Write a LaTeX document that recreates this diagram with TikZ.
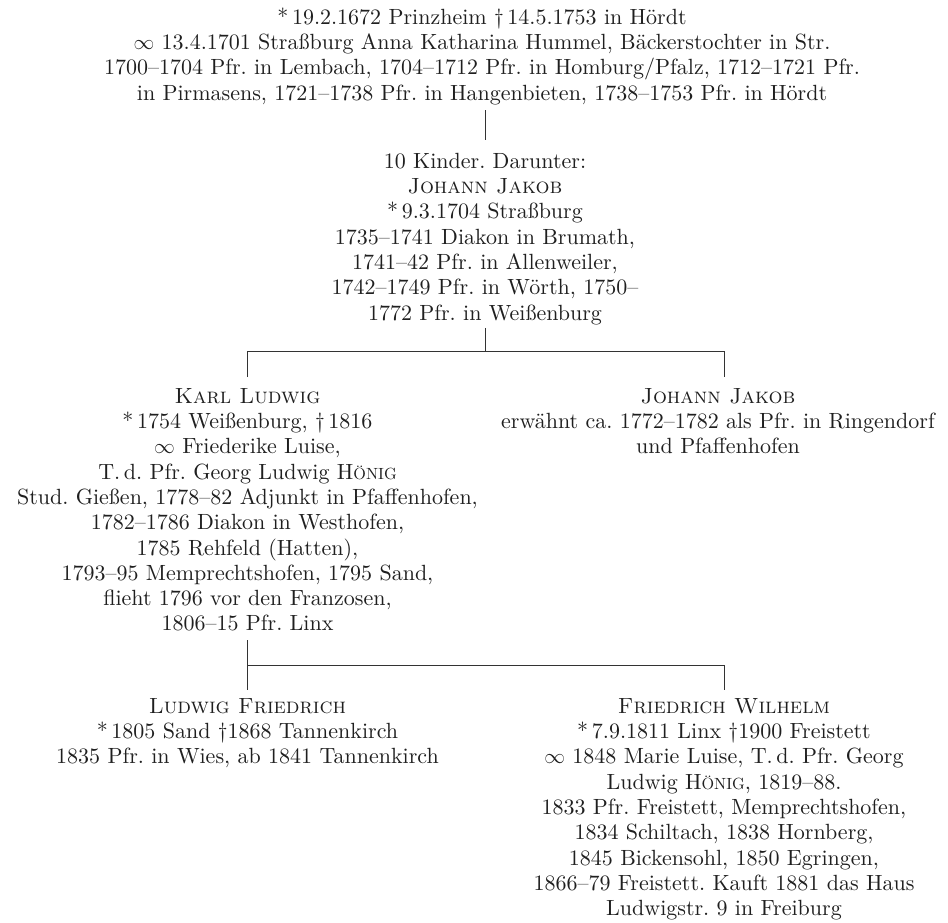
\documentclass[tikz,border=0pt]{standalone}
\usetikzlibrary{calc}
\DeclareFontFamily{TU}{lmx}{}
\DeclareFontShape{TU}{lmx}{m}{n}{<-> "[lmroman10-regular.otf]:mapping=tex-text"}{}
\DeclareFontShape{TU}{lmx}{m}{sc}{<-> "[lmromancaps10-regular.otf]:mapping=tex-text"}{}
\newcommand\fakesc[1]{{\fontsize{16.2}{25.3}\selectfont #1}}
\begin{document}
\begin{tikzpicture}[x=1pt,y=-1pt]
\tikzset{
  txt/.style={align=center, inner sep=0pt, anchor=north,
    font=\fontfamily{lmx}\fontsize{22}{25.3}\selectfont\frenchspacing, text=black!88},
  conn/.style={draw=black!80, line width=0.8pt}
}
\useasboundingbox (0,0) rectangle (948,923);

\node[txt] (top) at (482,6.3) {\strut*\,19.2.1672 Prinzheim \textdagger\,14.5.1753 in Hördt\\
$\infty$ 13.4.1701 Straßburg Anna Katharina Hummel, Bäckerstochter in Str.\\
1700--1704 Pfr. in Lembach, 1704--1712 Pfr. in Homburg/Pfalz, 1712--1721 Pfr.\\
in Pirmasens, 1721--1738 Pfr. in Hangenbieten, 1738--1753 Pfr. in Hördt\strut};

\node[txt] (kinder) at (485,150.3) {\strut 10 Kinder. Darunter:\\
\textsc{Johann Jakob}\\
*\,9.3.1704 Straßburg\\
1735--1741 Diakon in Brumath,\\
1741--42 Pfr. in Allenweiler,\\
1742--1749 Pfr. in Wörth, 1750--\\
1772 Pfr. in Weißenburg\strut};

\node[txt] (karl) at (247.5,385.3) {\strut\textsc{Karl Ludwig}\\
*\,1754 Weißenburg, \textdagger\,1816\\
$\infty$ Friederike Luise,\\
T.\,d. Pfr. Georg Ludwig H\fakesc{ÖNIG}\\
Stud. Gießen, 1778--82 Adjunkt in Pfaffenhofen,\\
1782--1786 Diakon in Westhofen,\\
1785 Rehfeld (Hatten),\\
1793--95 Memprechtshofen, 1795 Sand,\\
flieht 1796 vor den Franzosen,\\
1806--15 Pfr. Linx\strut};

\node[txt] (jj) at (718,385.3) {\strut\textsc{Johann Jakob}\\
erwähnt ca. 1772--1782 als Pfr. in Ringendorf\\
und Pfaffenhofen\strut};

\node[txt] (lf) at (247.5,695.3) {\strut\textsc{Ludwig Friedrich}\\
*\,1805 Sand \textdagger1868 Tannenkirch\\
1835 Pfr. in Wies, ab 1841 Tannenkirch\strut};

\node[txt] (fw) at (724,695.3) {\strut\textsc{Friedrich Wilhelm}\\
*\,7.9.1811 Linx \textdagger1900 Freistett\\
$\infty$ 1848 Marie Luise, T.\,d. Pfr. Georg\\
Ludwig H\fakesc{ÖNIG}, 1819--88.\\
1833 Pfr. Freistett, Memprechtshofen,\\
1834 Schiltach, 1838 Hornberg,\\
1845 Bickensohl, 1850 Egringen,\\
1866--79 Freistett. Kauft 1881 das Haus\\
Ludwigstr. 9 in Freiburg\strut};

\coordinate (t0) at ([yshift=-2.4pt]top.south);
\draw[conn] (t0 -| kinder.north) -- ([yshift=10.3pt]kinder.north);
\coordinate (j1) at ($(kinder.south)+(0,24)$);
\draw[conn] (kinder.south) -- (j1);
\draw[conn] ([yshift=8.3pt]karl.north) |- (j1) -| ([xshift=6pt,yshift=8.3pt]jj.north);
\coordinate (j2) at ($(karl.south)+(0,27)$);
\draw[conn] ([yshift=-1.7pt]karl.south) -- ([yshift=5.3pt]lf.north);
\draw[conn] (j2) -| ([yshift=5.3pt]fw.north);
\end{tikzpicture}
\end{document}
